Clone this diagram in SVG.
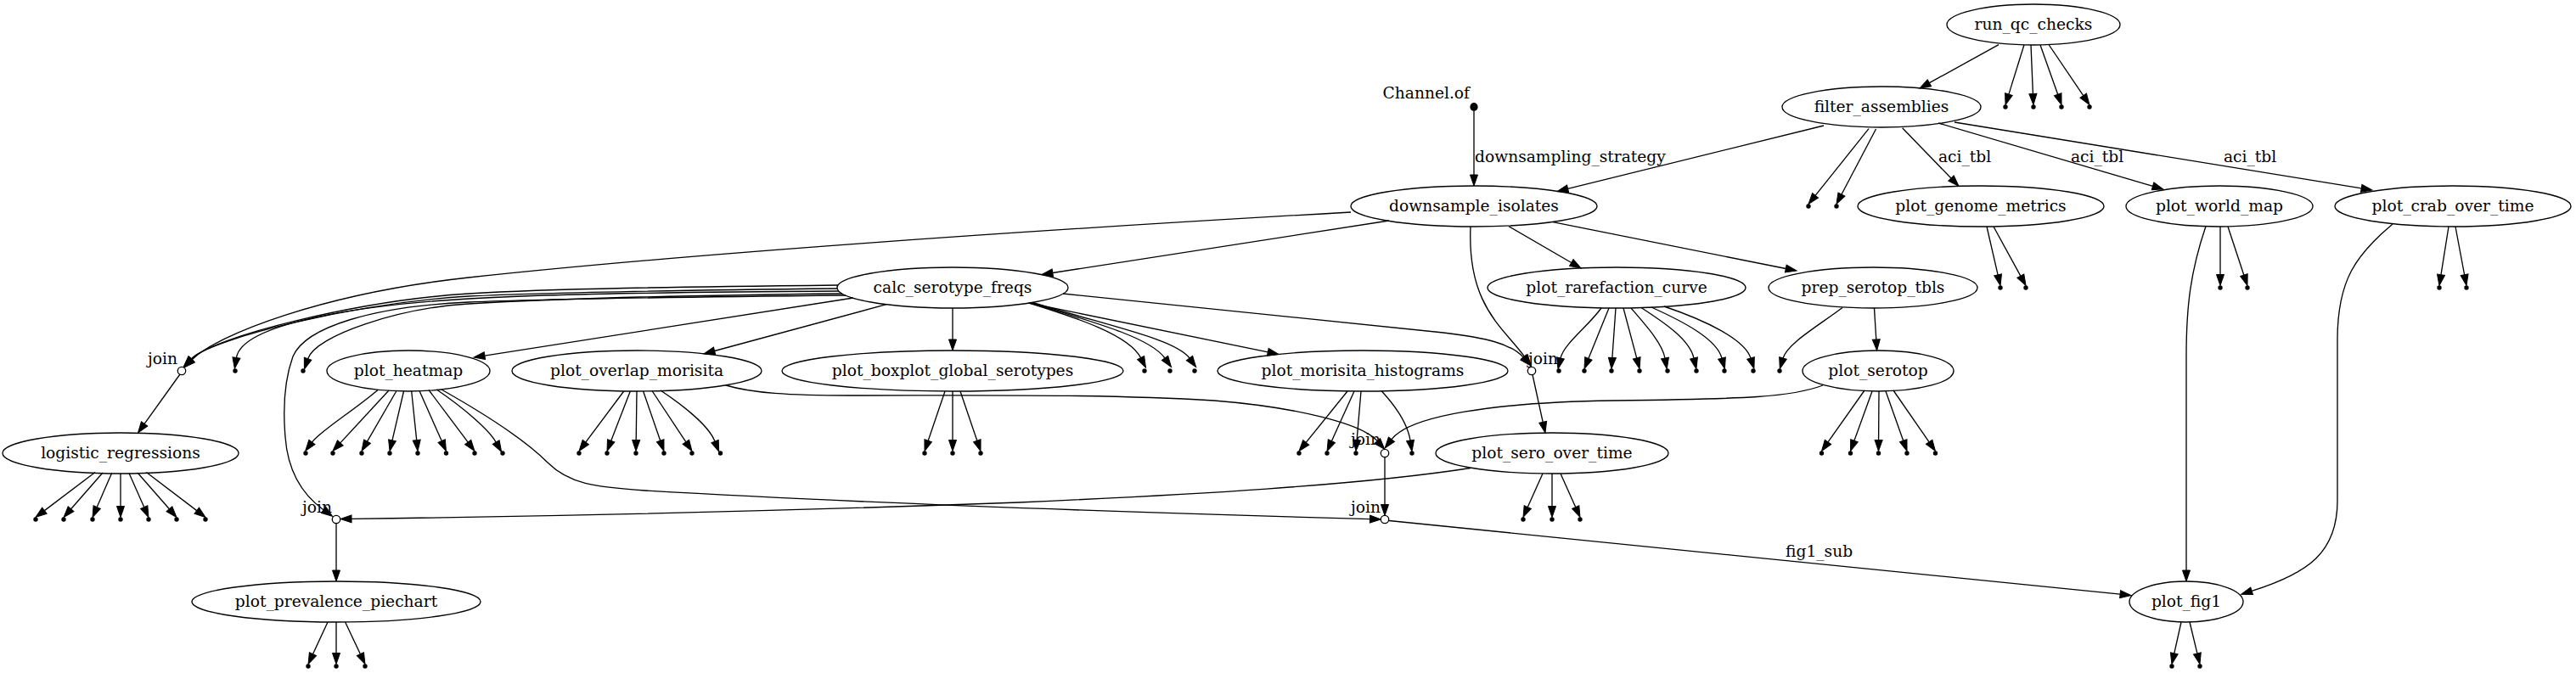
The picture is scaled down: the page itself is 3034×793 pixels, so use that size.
<svg xmlns="http://www.w3.org/2000/svg" width="3034" height="793" viewBox="0 0 3034 793">
<style>
.n ellipse{fill:none;stroke:#000;stroke-width:1.33}
.j circle{fill:#fff;stroke:#000;stroke-width:1.33}
.pt circle{fill:#000}
text{font-family:"DejaVu Serif","Liberation Serif",serif;font-size:18.67px;fill:#000}
.c{text-anchor:middle}
.r{text-anchor:end}
#edges path{fill:none;stroke:#000;stroke-width:1.33;marker-end:url(#ah)}
</style>
<defs>
<marker id="ah" markerUnits="userSpaceOnUse" markerWidth="13" markerHeight="9" viewBox="0 0 13 9" refX="0" refY="4.5" orient="auto" overflow="visible">
<path d="M0,0 L13,4.5 L0,9 z" fill="#000" stroke="#000" stroke-width="1"/>
</marker>
</defs>
<rect x="0" y="0" width="3034" height="793" fill="#fff"/>
<g id="edges">
<path d="M2354,52.7 L2272.4,97.7"/>
<path d="M2384,52.7 L2365.9,111.1"/>
<path d="M2392,53 L2394.4,110.5"/>
<path d="M2403,53 L2423.7,111.2"/>
<path d="M2413,52.5 L2453.7,112.7"/>
<path d="M1736,131 L1736,206"/>
<path d="M2148,148 L1846.6,222.4"/>
<path d="M2201,151.7 L2138.1,230.3"/>
<path d="M2209.5,152 L2169,229"/>
<path d="M2240.6,150.7 L2298,210"/>
<path d="M2283,145 L2535.5,219.3"/>
<path d="M2302,144 L2781.2,221.9"/>
<path d="M1636,260 L1239.8,321.5"/>
<path d="M1777,266.7 L1850.8,309.5"/>
<path d="M1829,261.7 L2103.3,316.5"/>
<path d="M1732,267 C1728,360 1770,385 1795.5,420.2"/>
<path d="M1591,250 C1200,272 800,300 552,327 C382,345.5 256.2,393.8 226.2,423.8"/>
<path d="M2340,267 L2353.1,323.8"/>
<path d="M2348,267 L2379.8,325.1"/>
<path d="M2615,267 L2615,323.5"/>
<path d="M2624,267 L2642.9,324.2"/>
<path d="M2598,266.5 C2580,320 2575,360 2575,420 L2575,672"/>
<path d="M2884,267 L2875,323.7"/>
<path d="M2892,267 L2902.6,323.7"/>
<path d="M2818,264 C2775,300 2753,330 2753,400 L2753,590 C2753,650 2720,675 2652.1,696.3"/>
<path d="M987,336 C800,338 650,340 552,346 C422,354 249.1,397.3 225.3,423"/>
<path d="M986,340 C800,342 650,344 552,349 C420,357 250,398 225.3,423"/>
<path d="M988,343 C800,344 650,346 552,352 C430,359 285,380 278.4,421.5"/>
<path d="M992,346 C800,348 650,352 552,358 C470,363 372,395 362.6,422.7"/>
<path d="M996,348 C800,350 650,352 552,356 C440,361 360,385 345,420 C336,445 333,480 336,515 C339,555 355,582 381,600.7"/>
<path d="M1005,351 L570.9,419.1"/>
<path d="M1044,358.7 L841.6,413.5"/>
<path d="M1122,363 L1122,400"/>
<path d="M1211.6,357 L1493.3,414.8"/>
<path d="M1212,357 C1270,375 1330,395 1343.6,421.6"/>
<path d="M1214,357 C1290,380 1355,398 1372,422"/>
<path d="M1216,356.5 C1310,385 1385,400 1401,422"/>
<path d="M1252,346 L1700,392 C1750,398 1780,405 1794.2,421.1"/>
<path d="M1886,363 C1870,385 1842,405 1838,422"/>
<path d="M1895,363 L1870.9,422.5"/>
<path d="M1903,363 L1898.9,421.5"/>
<path d="M1912,363 L1927.7,421.9"/>
<path d="M1921,363 C1940,385 1958,405 1961,422"/>
<path d="M1933,362.5 C1960,380 1990,400 1995,422"/>
<path d="M1945,362 C1985,380 2022,400 2028,422"/>
<path d="M1960,361 C2010,378 2055,400 2062,422"/>
<path d="M2207.5,363 L2209.8,400"/>
<path d="M2170,362.5 C2140,385 2105,405 2100,422"/>
<path d="M2196,460 L2153,520.9"/>
<path d="M2205,461 L2183.9,519.3"/>
<path d="M2213,461 L2212.6,518.5"/>
<path d="M2221,461 L2241.7,519.3"/>
<path d="M2230,460 L2272.1,520.8"/>
<path d="M2147,454 C2110,468 2060,470 1900,472 C1760,474 1660,490 1639,517.7"/>
<path d="M445,459.4 C415,485 378,507 367.5,521"/>
<path d="M458,460 L400.8,521.9"/>
<path d="M467,460.5 L432.5,520.2"/>
<path d="M475.5,461 L462,518.8"/>
<path d="M484.7,461 L490.7,518.6"/>
<path d="M494,460.5 L520.2,519.6"/>
<path d="M505,459.5 L551.2,521.1"/>
<path d="M514.3,459 C545,480 575,505 584.2,521.1"/>
<path d="M520,459 C575,490 620,520 645,545 C670,570 700,574 760,578 C1000,592 1300,603 1613.5,611.6"/>
<path d="M734.7,461 L689.8,521.1"/>
<path d="M742.3,461 L719.7,519.4"/>
<path d="M750,461 L749.2,518.5"/>
<path d="M757.6,461 L777.7,519.2"/>
<path d="M768,460.5 L807.8,520.7"/>
<path d="M778,460 C805,478 835,502 842,520"/>
<path d="M855,454 C885,463 930,466 1000,466 C1150,466 1300,464 1430,472 C1530,480 1605,500 1622.2,519.6"/>
<path d="M1113,461 L1093.2,519.2"/>
<path d="M1122,461 L1122,518.5"/>
<path d="M1131,461 L1150.8,519.2"/>
<path d="M1587,461 L1538.2,521.4"/>
<path d="M1595,461 L1568.4,519.7"/>
<path d="M1603,461 L1598.1,518.5"/>
<path d="M1627,460.5 C1645,480 1658,500 1661,519"/>
<path d="M1805,441.5 L1817.2,497.3"/>
<path d="M1631,538.7 L1631,594.5"/>
<path d="M1817,558 L1799.3,597.6"/>
<path d="M1828,558 L1828,596.5"/>
<path d="M1838,558 L1855.7,597.6"/>
<path d="M1732,551.5 C1600,572 1400,583 1200,592 C900,603 600,609 414,611.4"/>
<path d="M1636,613.5 L2497.1,700.2"/>
<path d="M212,441 L170.1,499.4"/>
<path d="M112,556.5 L52.4,601.6"/>
<path d="M121,557 L83.6,599.7"/>
<path d="M131.6,557.5 L114.2,597.6"/>
<path d="M142,558 L142,596.5"/>
<path d="M152,557.5 L169.7,597.6"/>
<path d="M162,557 L199.4,599.7"/>
<path d="M172.4,556.5 L231.7,601.6"/>
<path d="M396,616.7 L396,672"/>
<path d="M386,733 L368.5,770.7"/>
<path d="M396,733 L396,769.5"/>
<path d="M406.6,733 L424.4,770.7"/>
<path d="M2569,733 L2560.8,769.8"/>
<path d="M2579,733 L2587.9,769.9"/>
<text x="1737" y="191">downsampling_strategy</text>
<text x="2283" y="191">aci_tbl</text>
<text x="2439" y="191">aci_tbl</text>
<text x="2619" y="191">aci_tbl</text>
<text x="2103" y="656">fig1_sub</text>
</g>
<g id="run_qc_checks" class="n"><ellipse cx="2395" cy="29" rx="102" ry="24"/><text class="c" x="2395" y="35">run_qc_checks</text></g>
<g id="filter_assemblies" class="n"><ellipse cx="2216" cy="126" rx="117" ry="24"/><text class="c" x="2216" y="132">filter_assemblies</text></g>
<g id="channel_of" class="pt"><ellipse cx="1736" cy="126" rx="4.6" ry="5" fill="#000"/><text class="r" x="1731" y="116">Channel.of</text></g>
<g id="downsample_isolates" class="n"><ellipse cx="1736" cy="243" rx="145" ry="24"/><text class="c" x="1736" y="249">downsample_isolates</text></g>
<g id="plot_genome_metrics" class="n"><ellipse cx="2333" cy="243" rx="145" ry="24"/><text class="c" x="2333" y="249">plot_genome_metrics</text></g>
<g id="plot_world_map" class="n"><ellipse cx="2614" cy="243" rx="110" ry="24"/><text class="c" x="2614" y="249">plot_world_map</text></g>
<g id="plot_crab_over_time" class="n"><ellipse cx="2889" cy="243" rx="139" ry="24"/><text class="c" x="2889" y="249">plot_crab_over_time</text></g>
<g id="calc_serotype_freqs" class="n"><ellipse cx="1122" cy="339" rx="136" ry="24"/><text class="c" x="1122" y="345">calc_serotype_freqs</text></g>
<g id="plot_rarefaction_curve" class="n"><ellipse cx="1904" cy="339" rx="152" ry="24"/><text class="c" x="1904" y="345">plot_rarefaction_curve</text></g>
<g id="prep_serotop_tbls" class="n"><ellipse cx="2206" cy="339" rx="123" ry="24"/><text class="c" x="2206" y="345">prep_serotop_tbls</text></g>
<g id="join_1" class="j"><circle cx="214" cy="437" r="4.7"/><text class="r" x="209" y="429">join</text></g>
<g id="plot_heatmap" class="n"><ellipse cx="481" cy="437" rx="96" ry="24"/><text class="c" x="481" y="443">plot_heatmap</text></g>
<g id="plot_overlap_morisita" class="n"><ellipse cx="750" cy="437" rx="147" ry="24"/><text class="c" x="750" y="443">plot_overlap_morisita</text></g>
<g id="plot_boxplot_global_serotypes" class="n"><ellipse cx="1122" cy="437" rx="201" ry="24"/><text class="c" x="1122" y="443">plot_boxplot_global_serotypes</text></g>
<g id="plot_morisita_histograms" class="n"><ellipse cx="1605" cy="437" rx="171" ry="24"/><text class="c" x="1605" y="443">plot_morisita_histograms</text></g>
<g id="join_2" class="j"><circle cx="1804" cy="437" r="4.7"/><text x="1800" y="429">join</text></g>
<g id="plot_serotop" class="n"><ellipse cx="2212" cy="437" rx="89" ry="24"/><text class="c" x="2212" y="443">plot_serotop</text></g>
<g id="logistic_regressions" class="n"><ellipse cx="142" cy="534" rx="139" ry="24"/><text class="c" x="142" y="540">logistic_regressions</text></g>
<g id="join_3" class="j"><circle cx="1631" cy="534" r="4.7"/><text class="r" x="1626" y="524">join</text></g>
<g id="plot_sero_over_time" class="n"><ellipse cx="1828" cy="534" rx="137" ry="24"/><text class="c" x="1828" y="540">plot_sero_over_time</text></g>
<g id="join_4" class="j"><circle cx="396" cy="612" r="4.7"/><text class="r" x="391" y="604">join</text></g>
<g id="join_5" class="j"><circle cx="1631" cy="612" r="4.7"/><text class="r" x="1626" y="604">join</text></g>
<g id="plot_prevalence_piechart" class="n"><ellipse cx="396" cy="709" rx="170" ry="24"/><text class="c" x="396" y="715">plot_prevalence_piechart</text></g>
<g id="plot_fig1" class="n"><ellipse cx="2575" cy="709" rx="67" ry="24"/><text class="c" x="2575" y="715">plot_fig1</text></g>
<g id="outputs" class="pt">
<g id="o1"><circle cx="2362" cy="126" r="2.7"/></g>
<g id="o2"><circle cx="2395" cy="126" r="2.7"/></g>
<g id="o3"><circle cx="2428" cy="126" r="2.7"/></g>
<g id="o4"><circle cx="2461" cy="126" r="2.7"/></g>
<g id="o5"><circle cx="2130" cy="243" r="2.7"/></g>
<g id="o6"><circle cx="2163" cy="243" r="2.7"/></g>
<g id="o7"><circle cx="2356" cy="339" r="2.7"/></g>
<g id="o8"><circle cx="2386" cy="339" r="2.7"/></g>
<g id="o9"><circle cx="2615" cy="339" r="2.7"/></g>
<g id="o10"><circle cx="2647" cy="339" r="2.7"/></g>
<g id="o11"><circle cx="2873" cy="339" r="2.7"/></g>
<g id="o12"><circle cx="2905" cy="339" r="2.7"/></g>
<g id="o13"><circle cx="277" cy="437" r="2.7"/></g>
<g id="o14"><circle cx="357" cy="437" r="2.7"/></g>
<g id="o15"><circle cx="1348" cy="437" r="2.7"/></g>
<g id="o16"><circle cx="1378" cy="437" r="2.7"/></g>
<g id="o17"><circle cx="1407" cy="437" r="2.7"/></g>
<g id="o18"><circle cx="1836" cy="437" r="2.7"/></g>
<g id="o19"><circle cx="1866" cy="437" r="2.7"/></g>
<g id="o20"><circle cx="1898" cy="437" r="2.7"/></g>
<g id="o21"><circle cx="1931" cy="437" r="2.7"/></g>
<g id="o22"><circle cx="1964" cy="437" r="2.7"/></g>
<g id="o23"><circle cx="1998" cy="437" r="2.7"/></g>
<g id="o24"><circle cx="2031" cy="437" r="2.7"/></g>
<g id="o25"><circle cx="2065" cy="437" r="2.7"/></g>
<g id="o26"><circle cx="2096" cy="437" r="2.7"/></g>
<g id="o27"><circle cx="360" cy="534" r="2.7"/></g>
<g id="o28"><circle cx="392" cy="534" r="2.7"/></g>
<g id="o29"><circle cx="426" cy="534" r="2.7"/></g>
<g id="o30"><circle cx="459" cy="534" r="2.7"/></g>
<g id="o31"><circle cx="492" cy="534" r="2.7"/></g>
<g id="o32"><circle cx="525.5" cy="534" r="2.7"/></g>
<g id="o33"><circle cx="559" cy="534" r="2.7"/></g>
<g id="o34"><circle cx="592" cy="534" r="2.7"/></g>
<g id="o35"><circle cx="682" cy="534" r="2.7"/></g>
<g id="o36"><circle cx="715" cy="534" r="2.7"/></g>
<g id="o37"><circle cx="749" cy="534" r="2.7"/></g>
<g id="o38"><circle cx="782" cy="534" r="2.7"/></g>
<g id="o39"><circle cx="815" cy="534" r="2.7"/></g>
<g id="o40"><circle cx="848.5" cy="534" r="2.7"/></g>
<g id="o41"><circle cx="1089" cy="534" r="2.7"/></g>
<g id="o42"><circle cx="1122" cy="534" r="2.7"/></g>
<g id="o43"><circle cx="1155" cy="534" r="2.7"/></g>
<g id="o44"><circle cx="1530" cy="534" r="2.7"/></g>
<g id="o45"><circle cx="1563" cy="534" r="2.7"/></g>
<g id="o46"><circle cx="1597" cy="534" r="2.7"/></g>
<g id="o47"><circle cx="1663" cy="534" r="2.7"/></g>
<g id="o48"><circle cx="2145.5" cy="534" r="2.7"/></g>
<g id="o49"><circle cx="2179.5" cy="534" r="2.7"/></g>
<g id="o50"><circle cx="2212.5" cy="534" r="2.7"/></g>
<g id="o51"><circle cx="2246" cy="534" r="2.7"/></g>
<g id="o52"><circle cx="2279.5" cy="534" r="2.7"/></g>
<g id="o53"><circle cx="42" cy="612" r="2.7"/></g>
<g id="o54"><circle cx="75" cy="612" r="2.7"/></g>
<g id="o55"><circle cx="109" cy="612" r="2.7"/></g>
<g id="o56"><circle cx="142" cy="612" r="2.7"/></g>
<g id="o57"><circle cx="175" cy="612" r="2.7"/></g>
<g id="o58"><circle cx="208" cy="612" r="2.7"/></g>
<g id="o59"><circle cx="242" cy="612" r="2.7"/></g>
<g id="o60"><circle cx="1794" cy="612" r="2.7"/></g>
<g id="o61"><circle cx="1828" cy="612" r="2.7"/></g>
<g id="o62"><circle cx="1861" cy="612" r="2.7"/></g>
<g id="o63"><circle cx="363" cy="785" r="2.7"/></g>
<g id="o64"><circle cx="396" cy="785" r="2.7"/></g>
<g id="o65"><circle cx="430" cy="785" r="2.7"/></g>
<g id="o66"><circle cx="2558" cy="785" r="2.7"/></g>
<g id="o67"><circle cx="2591" cy="785" r="2.7"/></g>
</g>
</svg>
